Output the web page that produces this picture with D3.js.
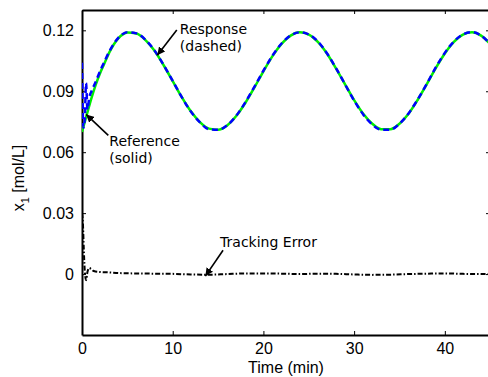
<!DOCTYPE html>
<html lang="en">
<head>
<meta charset="UTF-8">
<title>Tracking</title>
<script src="https://d3js.org/d3.v7.min.js"></script>
<style>
  body { margin: 0; background: #fff; }
  svg { display: block; }
  .tick text { font-family: "Liberation Sans", Arial, sans-serif; font-size: 16px; fill: #000; }
  .axis path, .axis line { stroke: #000; }
  .note { font-family: "DejaVu Sans", sans-serif; font-size: 14px; fill: #000; }
</style>
</head>
<body>
<script>
// time (min) and values
var refTime = [0, 0.5, 1, 1.5, 2, 2.5, 3, 3.5, 4, 4.5, 5, 6, 7, 8, 9, 10, 11, 12, 13, 14, 15,
  16, 17, 18, 19, 20, 21, 22, 23, 24, 25, 26, 27, 28, 29, 30, 31, 32, 33, 34, 35,
  36, 37, 38, 39, 40, 41, 42, 43, 44, 45];
var refValue = [0.0700, 0.0780, 0.0860, 0.0930, 0.0990, 0.1040, 0.1090, 0.1130, 0.1160, 0.1180, 0.1189,
  0.1184, 0.1152, 0.1099, 0.1028, 0.0950, 0.0871, 0.0801, 0.0748, 0.0716, 0.0711,
  0.0732, 0.0778, 0.0842, 0.0918, 0.0998, 0.1073, 0.1133, 0.1174, 0.1190, 0.1179,
  0.1143, 0.1086, 0.1013, 0.0934, 0.0856, 0.0789, 0.0740, 0.0713, 0.0713, 0.0740,
  0.0789, 0.0857, 0.0934, 0.1014, 0.1086, 0.1143, 0.1179, 0.1190, 0.1174, 0.1133];

var respTime = [0, 0.15, 0.3, 0.45, 0.6, 0.8, 1, 1.5, 2, 2.5, 3, 3.5, 4, 4.5, 5, 6, 7, 8, 9, 10, 11, 12, 13, 14, 15,
  16, 17, 18, 19, 20, 21, 22, 23, 24, 25, 26, 27, 28, 29, 30, 31, 32, 33, 34, 35,
  36, 37, 38, 39, 40, 41, 42, 43, 44, 45];
var respValue = [0.1040, 0.0720, 0.0760, 0.0940, 0.0810, 0.0870, 0.0895, 0.0945, 0.1000, 0.1048, 0.1095, 0.1133, 0.1163, 0.1182, 0.1190,
  0.1185, 0.1153, 0.1100, 0.1029, 0.0951, 0.0871, 0.0800, 0.0747, 0.0713, 0.0710,
  0.0732, 0.0779, 0.0845, 0.0921, 0.1001, 0.1075, 0.1135, 0.1175, 0.1190, 0.1180,
  0.1145, 0.1087, 0.1014, 0.0934, 0.0854, 0.0786, 0.0736, 0.0710, 0.0711, 0.0740,
  0.0791, 0.0859, 0.0936, 0.1017, 0.1089, 0.1145, 0.1180, 0.1191, 0.1174, 0.1133];

var errTime = [0, 0.1, 0.2, 0.3, 0.45, 0.6, 0.8, 1, 1.3, 2, 3, 4, 6, 8, 10, 12, 14, 16, 18, 20,
  22, 24, 26, 28, 30, 32, 34, 36, 38, 40, 42, 44, 45];
var errValue = [0.0300, 0.0250, 0.0120, 0.0020, -0.0030, 0.0010, 0.0030, 0.0025, 0.0015, 0.0010, 0.0008, 0.0005,
  0.0003, 0.0002, 0.0001, -0.0002, -0.0003, 0.0000, 0.0003, 0.0003,
  0.0002, 0.0000, 0.0002, 0.0001, -0.0002, -0.0004, -0.0003, 0.0000, 0.0002, 0.0003, 0.0001, 0.0000, 0.0000];

var xTicks = [0, 10, 20, 30, 40];
var yTicks = [0, 0.03, 0.06, 0.09, 0.12];

// annotations: arrow tail -> head in data units, text offset from the tail in px
var notes = [
  { lines: ["Response", "(dashed)"], tail: [10.45, 0.1202], head: [8.3, 0.1077], dx: 3, dy: 4 },
  { lines: ["Reference", "(solid)"], tail: [2.9, 0.0683], head: [0.45, 0.0786], dx: 1, dy: 11 },
  { lines: ["Tracking Error"], tail: [15.55, 0.0117], head: [13.6, -0.001], dx: -3, dy: -3 }
];

var W = 488, H = 377;
var margin = {top: 10, right: -4, bottom: 42, left: 82};
var width = W - margin.left - margin.right,
    height = H - margin.top - margin.bottom;

var x = d3.scaleLinear().domain([0, 45.2]).range([0, width]);
var y = d3.scaleLinear().domain([-0.03, 0.13]).range([height, 0]);

var svg = d3.select("body").append("svg")
    .attr("width", W).attr("height", H);

var defs = svg.append("defs");
defs.append("clipPath").attr("id", "clip")
  .append("rect").attr("width", width).attr("height", height);
defs.append("marker").attr("id", "arrow")
    .attr("viewBox", "0 0 10 10").attr("refX", 10).attr("refY", 5)
    .attr("markerWidth", 8).attr("markerHeight", 8).attr("markerUnits", "userSpaceOnUse")
    .attr("orient", "auto")
  .append("path").attr("d", "M0,0L10,5L0,10z").attr("fill", "#000");

var g = svg.append("g")
    .attr("transform", "translate(" + margin.left + "," + margin.top + ")");

var fmt = function(d) { return d === 0 ? "0" : d3.format(".2f")(d); };

// axes with inward ticks
g.append("g").attr("class", "axis")
    .attr("transform", "translate(0," + height + ")")
    .call(d3.axisBottom(x).tickValues(xTicks).tickSizeInner(-4).tickSizeOuter(0).tickPadding(8).tickFormat(d3.format("d")));
g.append("g").attr("class", "axis")
    .call(d3.axisTop(x).tickValues(xTicks).tickSizeInner(-4).tickSizeOuter(0).tickFormat(""));
g.append("g").attr("class", "axis")
    .call(d3.axisLeft(y).tickValues(yTicks).tickSizeInner(-4).tickSizeOuter(0).tickPadding(8).tickFormat(fmt));
g.append("g").attr("class", "axis")
    .attr("transform", "translate(" + width + ",0)")
    .call(d3.axisRight(y).tickValues(yTicks).tickSizeInner(-6).tickSizeOuter(0).tickFormat(""));
g.selectAll(".axis path").attr("stroke-width", 2);
g.selectAll(".axis line").attr("stroke-width", 1);

var lineOf = function(ts, vs) {
  return d3.line().x(function(d, i) { return x(ts[i]); }).y(function(d) { return y(d); })
    .curve(d3.curveMonotoneX)(vs);
};

var plot = g.append("g").attr("clip-path", "url(#clip)");

plot.append("path")
    .attr("d", lineOf(refTime, refValue))
    .attr("fill", "none").attr("stroke", "#00ee00").attr("stroke-width", 2.5);
plot.append("path")
    .attr("d", lineOf(respTime, respValue))
    .attr("fill", "none").attr("stroke", "#0000ff").attr("stroke-width", 2.5)
    .attr("stroke-dasharray", "6,4");
plot.append("path")
    .attr("d", lineOf(errTime, errValue))
    .attr("fill", "none").attr("stroke", "#000").attr("stroke-width", 2)
    .attr("stroke-dasharray", "5,2,1.5,2");

// annotations
notes.forEach(function(n) {
  var tx = x(n.tail[0]), ty = y(n.tail[1]);
  g.append("line")
      .attr("x1", tx).attr("y1", ty)
      .attr("x2", x(n.head[0])).attr("y2", y(n.head[1]))
      .attr("stroke", "#000").attr("stroke-width", 1.6)
      .attr("marker-end", "url(#arrow)");
  var t = g.append("text").attr("class", "note")
      .attr("x", tx + n.dx).attr("y", ty + n.dy);
  n.lines.forEach(function(s, i) {
    t.append("tspan").attr("x", tx + n.dx).attr("dy", i ? "1.2em" : 0).text(s);
  });
});

// axis titles
g.append("text")
    .attr("x", 204).attr("y", height + 38)
    .attr("text-anchor", "middle")
    .style("font-family", "Liberation Sans, Arial, sans-serif").style("font-size", "16px")
    .text("Time (min)");

var yl = svg.append("text")
    .attr("transform", "translate(24,178) rotate(-90)")
    .attr("text-anchor", "middle")
    .style("font-family", "Liberation Sans, Arial, sans-serif").style("font-size", "16px");
yl.append("tspan").text("x");
yl.append("tspan").attr("dy", 5).style("font-size", "11px").text("1");
yl.append("tspan").attr("dy", -5).text(" [mol/L]");
</script>
</body>
</html>
